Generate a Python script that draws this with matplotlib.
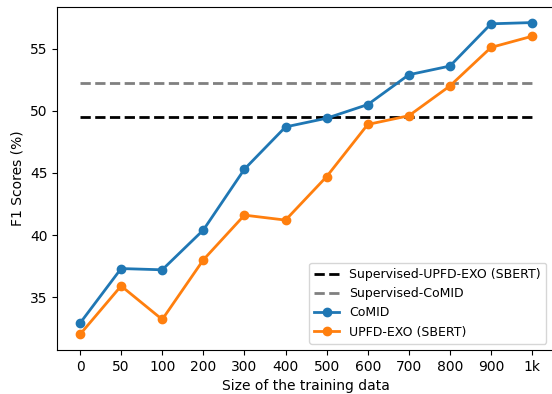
import matplotlib.pyplot as plt

# Datos
sizes = ["0", "50", "100", "200", "300", "400", "500", "600", "700", "800", "900", "1k"]
comid = [32.9, 37.3, 37.2, 40.4, 45.3, 48.7, 49.4, 50.5, 52.9, 53.6, 57.0, 57.1]
upfd_exo = [32.0, 35.9, 33.2, 38.0, 41.6, 41.2, 44.7, 48.9, 49.6, 52.0, 55.1, 56.0]
supervised_upfd = 49.5
supervised_comid = 52.2

fig = plt.figure(figsize=(5.52, 3.94), dpi=100)
ax = fig.add_axes([0.104, 0.1117, 0.901, 0.8706])

x = list(range(len(sizes)))
ax.plot(x, [supervised_upfd] * len(x), '--', color='black', linewidth=2,
        label='Supervised-UPFD-EXO (SBERT)')
ax.plot(x, [supervised_comid] * len(x), '--', color='gray', linewidth=2,
        label='Supervised-CoMID')
ax.plot(x, comid, '-o', color='#1f77b4', linewidth=2, label='CoMID')
ax.plot(x, upfd_exo, '-o', color='#ff7f0e', linewidth=2, label='UPFD-EXO (SBERT)')

ax.set_xticks(x)
ax.set_xticklabels(sizes)
ax.set_yticks([35, 40, 45, 50, 55])
ax.set_xlabel('Size of the training data')
ax.set_ylabel('F1 Scores (%)')
ax.legend(loc='lower right', fontsize=9, bbox_to_anchor=(0.995, 0.0))

plt.savefig('out.png', dpi=100)
plt.close()
